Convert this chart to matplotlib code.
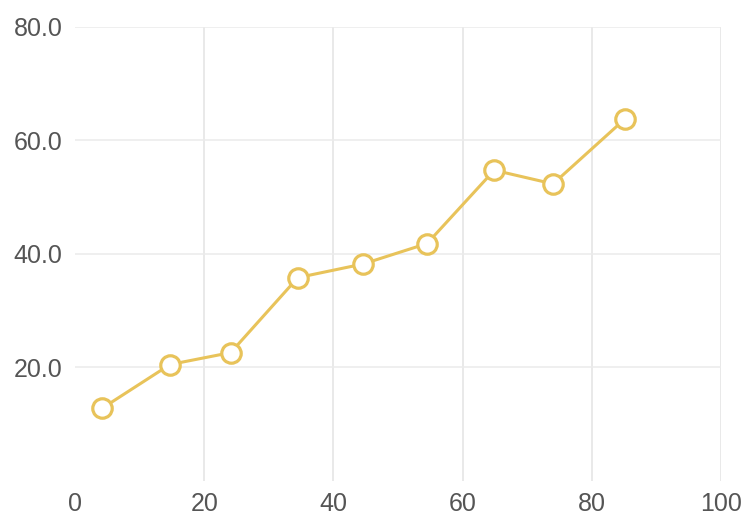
import matplotlib
matplotlib.use("Agg")
import matplotlib.pyplot as plt

x_values = [4.2, 14.7, 24.1, 34.5, 44.6, 54.5, 64.9, 74.0, 85.1]
y_values = [12.8, 20.5, 22.6, 35.8, 38.2, 41.8, 54.7, 52.3, 63.7]
x_ticks = [0, 20, 40, 60, 80, 100]
y_ticks = [20, 40, 60, 80]

plt.rcParams['font.family'] = ['Liberation Sans', 'DejaVu Sans']

fig = plt.figure(figsize=(7.42, 5.21), dpi=100)
ax = fig.add_axes([75/742, 1-481/521, (721-75)/742, (481-26.5)/521])

line_color = '#E8C35A'
ax.plot(x_values, y_values, color=line_color, lw=2.2, marker='o', markersize=14,
        markerfacecolor='white', markeredgecolor=line_color, markeredgewidth=2.3,
        zorder=3, clip_on=False)

ax.set_xlim(0, 100)
ax.set_ylim(0, 80)
ax.set_xticks(x_ticks)
ax.set_yticks(y_ticks)
ax.set_yticklabels([f"{v:.1f}" for v in y_ticks])

for v in x_ticks[1:]:
    ax.axvline(v, color='#e3e3e3', lw=1.1, zorder=1)
for v in y_ticks:
    ax.axhline(v, color='#ebebeb', lw=1.1, zorder=1)

for s in ax.spines.values():
    s.set_visible(False)
ax.tick_params(length=0, labelsize=18, colors='#555555')
ax.tick_params(axis='y', pad=9)
ax.tick_params(axis='x', pad=8)

fig.savefig("out.png", dpi=100)
